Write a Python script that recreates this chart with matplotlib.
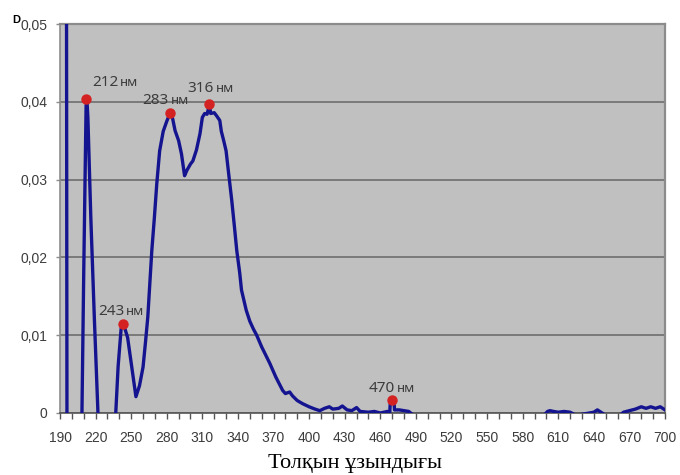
import matplotlib.pyplot as plt
from matplotlib.ticker import FixedLocator, MultipleLocator, FuncFormatter

# спектр: толқын ұзындығы (нм) және оптикалық тығыздық D
longitud_onda = [
    190, 195.3, 195.9, 207, 208.5, 210, 212, 212.7, 213.5, 216, 219, 222, 223,
    236, 237, 239, 241.5, 243, 244, 247, 250.5, 254, 257, 260, 262, 264,
    267.4, 269.5, 271.6, 274, 277, 280, 283, 285, 287, 290, 292.4, 295,
    297, 300, 302, 305, 308, 310, 312, 314, 316, 317, 320, 322, 324.7,
    326, 328, 330, 332, 334.8, 337, 339, 341.5, 343, 347, 350, 353, 355.8,
    360, 366.8, 372, 377.7, 380, 383.6, 386, 390, 394.5, 400, 405, 409,
    413, 417, 420, 425, 428, 432, 436, 440, 443, 450, 455, 460, 466, 468,
    468.5, 470, 471.5, 472, 476, 480, 484, 488, 598, 601, 603, 606, 610,
    615, 620, 625, 640, 643, 646, 650, 662, 665, 670, 675, 680, 684, 688,
    692, 696, 700,
]
absorbancia = [
    0.08, 0.08, -0.005, -0.005, 0.0, 0.018, 0.0395, 0.0403, 0.038, 0.025,
    0.012, 0.0, -0.003, -0.003, 0.0, 0.006, 0.0108, 0.0115, 0.0112, 0.0097,
    0.0059, 0.0021, 0.0035, 0.0059, 0.009, 0.0123, 0.0209, 0.025, 0.0295,
    0.0337, 0.0362, 0.0375, 0.0386, 0.0378, 0.0363, 0.035, 0.0333, 0.0305,
    0.0312, 0.032, 0.0324, 0.0338, 0.0359, 0.038, 0.0385, 0.0384, 0.0397,
    0.0385, 0.0386, 0.0382, 0.0376, 0.0362, 0.035, 0.0337, 0.031, 0.0273,
    0.024, 0.0209, 0.018, 0.0158, 0.0132, 0.0118, 0.0108, 0.01, 0.0085,
    0.0064, 0.0046, 0.0029, 0.0025, 0.0027, 0.0022, 0.0016, 0.0012, 0.0008,
    0.0005, 0.0003, 0.0006, 0.0008, 0.0005, 0.0006, 0.0009, 0.0004, 0.0003,
    0.0007, 0.0002, 0.0001, 0.0002, 0.0, 0.0002, 0.0001, 0.0016, 0.0017,
    0.0016, 0.0004, 0.0004, 0.0003, 0.0002, -0.0003, -0.0003, 0.0002,
    0.0003, 0.0002, 0.0001, 0.0002, 0.0001, -0.0003, 0.0001, 0.0004, 0.0001,
    -0.0003, -0.0003, 0.0001, 0.0003, 0.0005, 0.0008, 0.0006, 0.0008,
    0.0006, 0.0008, 0.0004,
]

picos_nm = [212, 243, 283, 316, 470]
picos_d = [0.0403, 0.0115, 0.0386, 0.0397, 0.0017]
etiquetas_pico = ["212", "243", "283", "316", "470"]
desplazamientos = [(6, 13), (-25, 9), (-28, 9), (-22, 12), (-24, 8)]

fig = plt.figure(figsize=(6.8, 4.75), dpi=100)
ax = fig.add_axes([60 / 680, 1 - 413 / 475, 605 / 680, 389 / 475])
ax.set_facecolor("#c0c0c0")

ax.plot(longitud_onda, absorbancia, color="#141490", lw=2.4,
        solid_joinstyle="round", zorder=3)
ax.plot(picos_nm, picos_d, "o", color="#d42222", ms=6.5, zorder=4)

ax.set_xlim(190, 700)
ax.set_ylim(0, 0.05)

ax.xaxis.set_major_locator(FixedLocator(range(190, 701, 30)))
ax.xaxis.set_minor_locator(MultipleLocator(10))
ax.yaxis.set_major_locator(MultipleLocator(0.01))
ax.yaxis.set_major_formatter(FuncFormatter(
    lambda v, p: "0" if abs(v) < 1e-9 else f"{v:.2f}".replace(".", ",")))

ax.grid(axis="y", color="#6e6e6e", lw=1.2)
ax.set_axisbelow(True)

for lado in ["top", "right"]:
    ax.spines[lado].set_color("#8c8c8c")
    ax.spines[lado].set_linewidth(1.6)
ax.spines["left"].set_color("#8c8c8c")
ax.spines["left"].set_linewidth(1.2)
ax.spines["bottom"].set_color("#555555")
ax.spines["bottom"].set_linewidth(1.2)

ax.tick_params(axis="x", which="both", direction="out", length=4, width=1,
               color="#555555", labelsize=10, labelcolor="#3c3c3c", pad=9)
ax.tick_params(axis="y", direction="out", length=3, width=1, color="#8c8c8c",
               labelsize=10, labelcolor="#3c3c3c", pad=6)
for etiqueta in ax.get_xticklabels() + ax.get_yticklabels():
    etiqueta.set_family("Liberation Sans")

# number first, then the smaller "нм" on the same baseline right after it
fig.canvas.draw()
renderer = fig.canvas.get_renderer()
for x, y, texto, (dx, dy) in zip(picos_nm, picos_d, etiquetas_pico, desplazamientos):
    numero = ax.annotate(texto, (x, y), xytext=(dx, dy), textcoords="offset pixels",
                         fontsize=11, color="#3c3c3c", ha="left", va="baseline",
                         family=["Noto Sans", "DejaVu Sans"], zorder=5)
    ancho = numero.get_window_extent(renderer).width
    ax.annotate("нм", (x, y), xytext=(dx + ancho + 2, dy), textcoords="offset pixels",
                fontsize=9.5, color="#3c3c3c", ha="left", va="baseline",
                family=["Noto Sans", "DejaVu Sans"], zorder=5)

fig.text(355 / 680, 1 - 468 / 475, "Толқын ұзындығы", family="Liberation Serif",
         fontsize=16, ha="center", va="baseline", color="black")
fig.text(12 / 680, 1 - 23 / 475, "D", family="Liberation Sans", fontsize=8,
         fontweight="bold", va="baseline", color="black")

fig.savefig("out.png", dpi=100)
